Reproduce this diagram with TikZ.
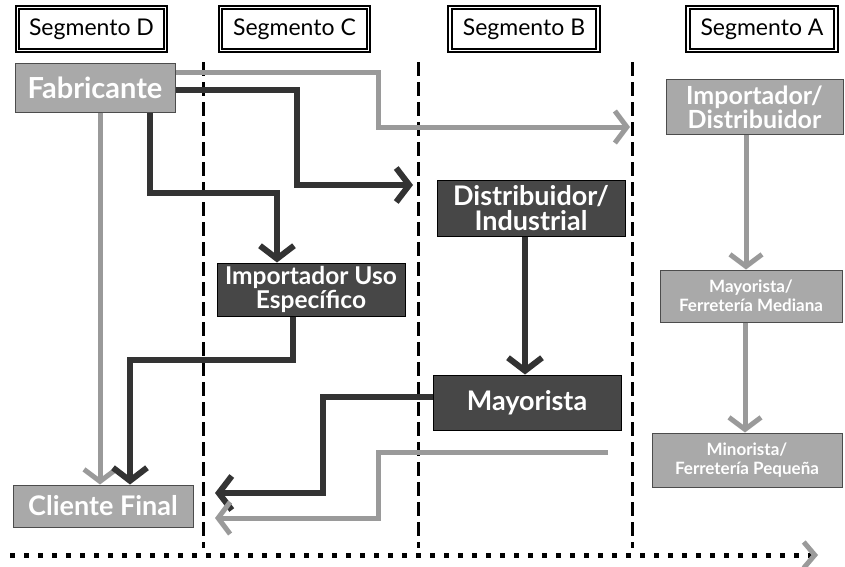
\documentclass[tikz,border=0pt]{standalone}
\usepackage{fontspec}
\setmainfont{Lato}
\usetikzlibrary{arrows.meta}
\definecolor{oscuro}{HTML}{474747}
\definecolor{claro}{HTML}{A9A9A9}
\definecolor{flechaosc}{HTML}{333333}
\definecolor{flechacla}{HTML}{9A9A9A}

\begin{document}
\begin{tikzpicture}[x=1pt, y=-1pt,
        segmento/.style={draw, line width=1.8pt, double, double distance=1.6pt, minimum width=148pt, minimum height=43pt, inner sep=0pt, font=\fontsize{23}{25}\selectfont},
        cajaosc/.style={fill=oscuro, draw=black, line width=1pt, text=white, align=center, inner sep=0pt, font=\bfseries\fontsize{24}{24}\selectfont},
        cajacla/.style={fill=claro, draw=black!70, line width=1pt, text=white, align=center, inner sep=0pt, font=\bfseries\fontsize{24}{24}\selectfont},
        separador/.style={line width=3pt, dash pattern=on 14pt off 6pt},
        flechaoscura/.style={flechaosc, line width=6pt, -{Straight Barb[length=13pt,width=34pt]}},
        flechaclara/.style={flechacla, line width=5pt, -{Straight Barb[length=12pt,width=32pt]}},
        tiempo/.style={line width=5pt, dash pattern=on 5pt off 9pt, -{Straight Barb[length=11pt,width=26pt,color=flechacla]}}]
    \useasboundingbox (0,0) rectangle (845,566);

    \node[segmento] (segD) at (91.5,29) {Segmento D};
    \node[segmento] (segC) at (294.5,29) {Segmento C};
    \node[segmento] (segB) at (524,29) {Segmento B};
    \node[segmento] (segA) at (762,29) {Segmento A};

    \foreach \x in {203,418,632}
        \draw[separador] (\x,62) -- (\x,548);

    \node[cajacla, minimum width=160pt, minimum height=49pt, font=\bfseries\fontsize{29}{30}\selectfont] (fab) at (95,87.5) {Fabricante};
    \node[cajacla, minimum width=177pt, minimum height=55pt, font=\bfseries\fontsize{25}{24}\selectfont] (impdist) at (754.5,107) {Importador/\\Distribuidor};
    \node[cajaosc, minimum width=188pt, minimum height=56pt, font=\bfseries\fontsize{27}{25}\selectfont] (distind) at (531,208) {Distribuidor/\\Industrial};
    \node[cajaosc, minimum width=188pt, minimum height=53pt, font=\bfseries\fontsize{24.5}{24}\selectfont] (impuso) at (311,289.5) {Importador Uso\\Específico};
    \node[cajaosc, minimum width=188pt, minimum height=55pt, font=\bfseries\fontsize{27}{28}\selectfont] (mayB) at (527,402.5) {Mayorista};
    \node[cajacla, minimum width=182pt, minimum height=52pt, font=\bfseries\fontsize{17}{19}\selectfont] (mayA) at (751,296) {Mayorista/\\Ferretería Mediana};
    \node[cajacla, minimum width=190pt, minimum height=54pt, font=\bfseries\fontsize{17}{19}\selectfont] (minA) at (747,460) {Minorista/\\Ferretería Pequeña};
    \node[cajacla, minimum width=180pt, minimum height=42pt, font=\bfseries\fontsize{27}{28}\selectfont] (cliente) at (103,506) {Cliente Final};

    \coordinate (haciaA) at (630,127);
    \coordinate (haciaB) at (413,185);
    \coordinate (codo1) at (277,193);
    \coordinate (codo2) at (130,360);
    \coordinate (haciaCli1) at (215,493);
    \coordinate (desdeMin) at (608,452);
    \coordinate (haciaCli2) at (215,518);
    \coordinate (t0) at (10,555);
    \coordinate (t1) at (818,555);

    \draw[flechaclara] ([yshift=15.5pt]fab.east) -| (378,127) -- (haciaA);
    \draw[flechaoscura] ([yshift=-2.5pt]fab.east) -| (297,185) -- (haciaB);
    \draw[flechaoscura] ([xshift=55pt]fab.south) |- (codo1) -- ([xshift=-34pt]impuso.north);
    \draw[flechaclara] ([xshift=5pt]fab.south) -- ([xshift=-3pt]cliente.north);
    \draw[flechaoscura] ([xshift=-18pt]impuso.south) |- (codo2) -- ([xshift=27pt]cliente.north);
    \draw[flechaoscura] ([xshift=-6pt]distind.south) -- ([xshift=-2pt]mayB.north);
    \draw[flechaoscura] ([yshift=5.5pt]mayB.west) -| (323,493) -- (haciaCli1);
    \draw[flechaclara] (desdeMin) -| (378,518) -- (haciaCli2);
    \draw[flechaclara] ([xshift=-8.5pt]impdist.south) -- ([xshift=-5pt]mayA.north);
    \draw[flechaclara] ([xshift=-6pt]mayA.south) -- ([xshift=-2pt]minA.north);

    \draw[tiempo] (t0) -- (t1);
\end{tikzpicture}
\end{document}
